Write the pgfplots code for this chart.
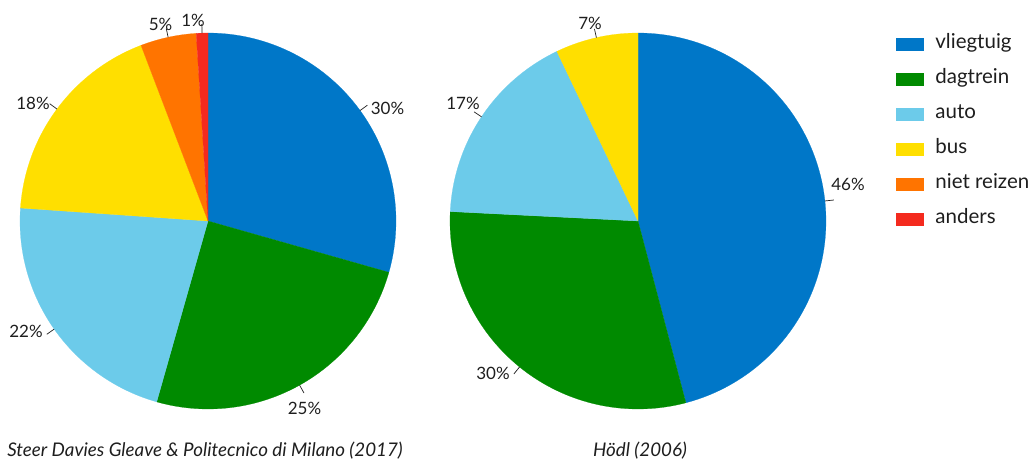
\documentclass[border=0pt]{standalone}
\usepackage{fontspec}
\setmainfont{Lato}
\usepackage{pgfplots}
\pgfplotsset{compat=1.18}
\definecolor{cvl}{HTML}{0077C8}
\definecolor{cdt}{HTML}{008A00}
\definecolor{cau}{HTML}{6CCBEA}
\definecolor{cbu}{HTML}{FFDF00}
\definecolor{cnr}{HTML}{FF7400}
\definecolor{can}{HTML}{F42A1E}
\definecolor{txt}{HTML}{1E1E1E}
% #1 cx, #2 cy, #3 cumulative start (%), #4 value (%), #5 colour
\newcommand\slice[5]{%
  \addplot[fill=#5, draw=#5, line width=0.2pt, domain={90-3.6*(#3+#4)}:{90-3.6*(#3)}, samples=90, variable=\t]
    ({#1+188*cos(\t)},{#2+188*sin(\t)}) -- (axis cs:#1,#2) -- cycle;}
% #1 cx, #2 cy, #3 middle (%), #4 label x, #5 label y, #6 text
\newcommand\pielabel[6]{%
  \pgfmathsetmacro\ang{90-3.6*(#3)}%
  \pgfmathsetmacro\xa{#1+188*cos(\ang)}%
  \pgfmathsetmacro\ya{#2+188*sin(\ang)}%
  \pgfmathsetmacro\xb{#1+197*cos(\ang)}%
  \pgfmathsetmacro\yb{#2+197*sin(\ang)}%
  \edef\tmp{\noexpand\draw[txt, line width=0.7pt] (axis cs:\xa,\ya) -- (axis cs:\xb,\yb);
    \noexpand\node[anchor=center, inner sep=0pt, text depth=0pt, text=txt, font=\noexpand\fontsize{17}{19}\noexpand\selectfont] at (axis cs:#4,#5) {\unexpanded{#6}};}%
  \tmp}
\begin{document}
\begin{tikzpicture}
\useasboundingbox (0,0) rectangle (1032pt,464pt);
\begin{axis}[
  x=1pt, y=1pt, xmin=0, xmax=1032, ymin=0, ymax=464,
  hide axis, clip=false, scale only axis,
  legend image code/.code={\fill[#1] (0pt,-6pt) rectangle (27pt,6pt);},
  legend style={at={(axis cs:893,431)}, anchor=north west, draw=none, fill=none,
    font=\fontsize{20.5}{23}\selectfont, text=txt, row sep=18.1pt,
    cells={anchor=west}, nodes={text height=13pt, text depth=4pt, inner sep=0pt},
    /tikz/every even column/.append style={column sep=0pt}},
  legend cell align=left,
]
% Steer Davies Gleave & Politecnico di Milano (2017)
\slice{208}{243}{0}{29.4}{cvl}
\slice{208}{243}{29.4}{25.0}{cdt}
\slice{208}{243}{54.4}{21.7}{cau}
\slice{208}{243}{76.1}{18.1}{cbu}
\slice{208}{243}{94.2}{4.8}{cnr}
\slice{208}{243}{99.0}{1.0}{can}
\addlegendentry{\hspace{12pt}vliegtuig}
\addlegendentry{\hspace{12pt}dagtrein}
\addlegendentry{\hspace{12pt}auto}
\addlegendentry{\hspace{12pt}bus}
\addlegendentry{\hspace{12pt}niet reizen}
\addlegendentry{\hspace{12pt}anders}
% Hödl (2006)
\pgfplotsset{every axis plot/.append style={forget plot}}
\slice{638}{243}{0}{45.9}{cvl}
\slice{638}{243}{45.9}{29.9}{cdt}
\slice{638}{243}{75.8}{17.1}{cau}
\slice{638}{243}{92.9}{7.1}{cbu}

\pielabel{208}{243}{15.0}{387.5}{355.5}{30\%}
\pielabel{208}{243}{41.9}{304.5}{55.5}{25\%}
\pielabel{208}{243}{65.25}{26}{133}{22\%}
\pielabel{208}{243}{85.15}{33}{361}{18\%}
\pielabel{208}{243}{96.6}{160.5}{439.5}{5\%}
\pielabel{208}{243}{99.5}{193}{443.5}{1\%}
\pielabel{638}{243}{23.3}{848}{280}{46\%}
\pielabel{638}{243}{60.85}{493}{90.5}{30\%}
\pielabel{638}{243}{84.35}{463}{360.5}{17\%}
\pielabel{638}{243}{96.45}{590}{440.5}{7\%}

\node[text=txt, font=\fontsize{18.8}{21}\selectfont\itshape] at (axis cs:205,13) {Steer Davies Gleave \& Politecnico di Milano (2017)};
\node[text=txt, font=\fontsize{18.8}{21}\selectfont\itshape] at (axis cs:640,13) {Hödl (2006)};
\end{axis}
\end{tikzpicture}
\end{document}
